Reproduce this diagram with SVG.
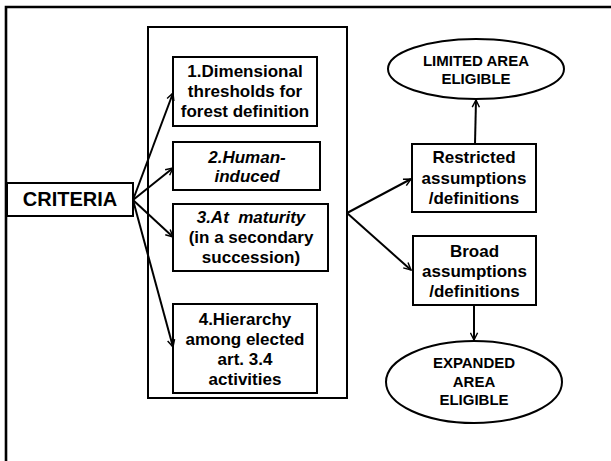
<svg xmlns="http://www.w3.org/2000/svg" width="611" height="461" viewBox="0 0 611 461">
<style>
.box{fill:#fff;stroke:#000;stroke-width:2}
.t{font-family:"Liberation Sans",Arial,sans-serif;font-weight:bold;font-size:17px;text-anchor:middle;fill:#000}
.e{font-size:15px}
.i{font-style:italic}
.c{stroke:#000;stroke-width:2;fill:none;marker-end:url(#ah)}
</style>
<defs>
<marker id="ah" viewBox="0 0 10 10" refX="9" refY="5" markerWidth="9" markerHeight="9" markerUnits="userSpaceOnUse" orient="auto">
<path d="M1,1 L9,5 L1,9" fill="none" stroke="#000" stroke-width="1.6"/>
</marker>
</defs>
<rect width="611" height="461" fill="#fff"/>
<path d="M6,461 V7 H611" fill="none" stroke="#000" stroke-width="2.6"/>
<g id="group-box"><rect class="box" x="148" y="27" width="199" height="371"/></g>
<g id="criteria"><rect class="box" x="7" y="183" width="126" height="33"/><text class="t" x="70" y="206" style="font-size:20px">CRITERIA</text></g>
<g id="c1"><rect class="box" x="173" y="57" width="144" height="69"/><text class="t" x="245" y="77">1.Dimensional</text><text class="t" x="245" y="97">thresholds for</text><text class="t" x="245" y="117">forest definition</text></g>
<g id="c2"><rect class="box" x="173" y="142" width="147" height="48"/><text class="t i" x="247" y="163">2.Human-</text><text class="t i" x="247" y="182">induced</text></g>
<g id="c3"><rect class="box" x="173" y="204" width="155" height="67"/><text class="t i" x="251" y="223" xml:space="preserve">3.At  maturity</text><text class="t" x="251" y="243">(in a secondary</text><text class="t" x="251" y="263">succession)</text></g>
<g id="c4"><rect class="box" x="173" y="304" width="144" height="89"/><text class="t" x="245" y="325">4.Hierarchy</text><text class="t" x="245" y="345">among elected</text><text class="t" x="245" y="365">art. 3.4</text><text class="t" x="245" y="385">activities</text></g>
<g id="restricted"><rect class="box" x="412" y="144" width="124" height="68"/><text class="t" x="474" y="163">Restricted</text><text class="t" x="474" y="184">assumptions</text><text class="t" x="474" y="204">/definitions</text></g>
<g id="broad"><rect class="box" x="413" y="236" width="123" height="69"/><text class="t" x="474.5" y="257">Broad</text><text class="t" x="474.5" y="277">assumptions</text><text class="t" x="474.5" y="297">/definitions</text></g>
<g id="limited"><ellipse class="box" cx="476" cy="69" rx="88" ry="30"/><text class="t e" x="476" y="66">LIMITED AREA</text><text class="t e" x="476" y="84">ELIGIBLE</text></g>
<g id="expanded"><ellipse class="box" cx="474" cy="382" rx="88" ry="41"/><text class="t e" x="474" y="368">EXPANDED</text><text class="t e" x="474" y="387">AREA</text><text class="t e" x="474" y="405">ELIGIBLE</text></g>
<g id="connectors">
<line class="c" x1="133" y1="200" x2="173" y2="93"/>
<line class="c" x1="133" y1="200" x2="173" y2="168"/>
<line class="c" x1="133" y1="200" x2="173" y2="237"/>
<line class="c" x1="133" y1="200" x2="173" y2="347"/>
<line class="c" x1="347" y1="213" x2="411" y2="179"/>
<line class="c" x1="347" y1="213" x2="411" y2="270"/>
<line class="c" x1="475" y1="144" x2="476" y2="100"/>
<line class="c" x1="474" y1="305" x2="474" y2="340"/>
</g>
</svg>
